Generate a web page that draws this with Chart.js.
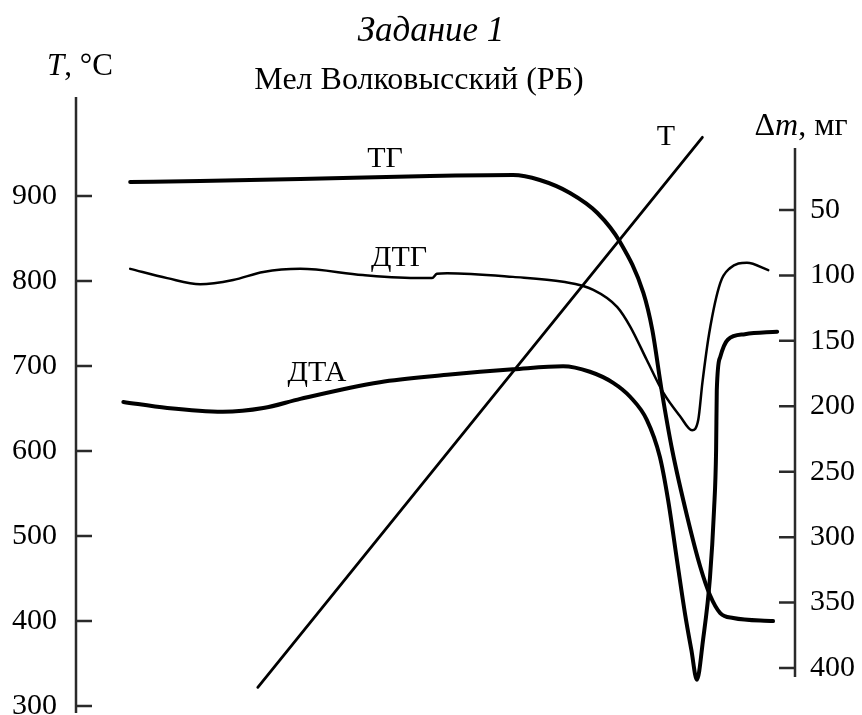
<!DOCTYPE html>
<html>
<head>
<meta charset="utf-8">
<script src="https://cdn.jsdelivr.net/npm/chart.js@4.4.1/dist/chart.umd.min.js"></script>
<style>
  html, body { margin: 0; padding: 0; background: #fff; }
  #wrap { width: 862px; height: 715px; }
</style>
</head>
<body>
<div id="wrap"><canvas id="thermoChart"></canvas></div>
<script>
// hidden x axis: time, min
const timeT = [26.5, 91.3];
const tempT = [322, 969];            // T, °C (left axis)

const timeTG = [7.9, 18.1, 32.7, 51.6, 63.7, 67.6, 72.0, 76.0, 79.3, 82.7, 84.0, 85.4, 86.9, 89.1, 91.0, 92.4, 93.9, 95.8, 101.6];
const massTG = [28.6, 27.8, 26.3, 24.0, 23.3, 27.1, 37.0, 52.3, 74.5, 113.4, 141.7, 189.1, 233.4, 284.6, 322.8, 344.2, 358.0, 361.8, 364.1]; // Δm, мг (right axis)

// DTG and DTA in relative units (no axis on the picture)
const timeDTG = [7.9, 13.3, 18.1, 22.9, 27.3, 32.7, 41.8, 50.2, 51.9, 52.6, 54.1, 63.7, 71.0, 75.4, 78.9, 80.8, 83.2, 85.6, 88.1, 89.8, 90.7, 91.3, 92.3, 93.9, 95.3, 97.8, 100.9];
const valDTG = [72.1, 70.6, 69.6, 70.3, 71.6, 72.1, 71.1, 70.6, 70.6, 71.3, 71.4, 70.8, 70.0, 68.7, 65.9, 62.7, 57.3, 52.0, 48.1, 45.9, 47.6, 53.6, 61.7, 69.8, 72.2, 73.1, 71.9];

const timeDTA = [6.9, 13.3, 21.4, 27.3, 32.7, 44.3, 54.1, 58.9, 63.7, 71.0, 74.9, 78.3, 80.8, 83.2, 85.1, 86.3, 87.6, 88.8, 89.7, 90.5, 91.4, 92.4, 93.0, 93.3, 93.4, 93.9, 95.0, 97.5, 102.2];
const valDTA = [50.5, 49.5, 48.9, 49.5, 51.0, 53.7, 54.9, 55.4, 55.8, 56.3, 55.4, 53.6, 51.3, 47.6, 41.6, 34.6, 24.8, 15.9, 10.2, 5.4, 11.9, 21.9, 33.0, 42.7, 52.4, 57.8, 60.6, 61.5, 61.9];

const tempTicks = [300, 400, 500, 600, 700, 800, 900];
const massTicks = [50, 100, 150, 200, 250, 300, 350, 400];
const massAxisSpan = [2.6, 406.9];

const FONT = '"Liberation Serif", "Times New Roman", serif';

function toPoints(xs, ys) {
    return xs.map((x, i) => ({ x: x, y: ys[i] }));
}

// draws a string made of plain / italic pieces, centred on x
function drawRuns(ctx, runs, x, y, size) {
    let total = 0;
    runs.forEach(r => {
        ctx.font = (r.italic ? 'italic ' : '') + size + 'px ' + FONT;
        r.w = ctx.measureText(r.text).width;
        total += r.w;
    });
    let cx = x - total / 2;
    runs.forEach(r => {
        ctx.font = (r.italic ? 'italic ' : '') + size + 'px ' + FONT;
        ctx.fillText(r.text, cx, y);
        cx += r.w;
    });
}

// keep the plot area fixed: no extra room for the end labels
function fitAxis(width) {
    return s => {
        s.width = width;
        s.paddingTop = 0;
        s.paddingBottom = 0;
    };
}

const frame = {
    id: 'frame',
    afterDraw(chart) {
        const { ctx, chartArea: a, scales } = chart;
        const yT = scales.yT, yM = scales.yM;
        ctx.save();
        ctx.strokeStyle = '#2a2a2a';
        ctx.lineWidth = 2.5;
        ctx.beginPath();
        ctx.moveTo(a.left, a.top);
        ctx.lineTo(a.left, a.bottom);
        tempTicks.forEach(v => {
            const y = yT.getPixelForValue(v);
            ctx.moveTo(a.left, y);
            ctx.lineTo(a.left + 16, y);
        });
        ctx.moveTo(a.right, yM.getPixelForValue(massAxisSpan[0]));
        ctx.lineTo(a.right, yM.getPixelForValue(massAxisSpan[1]));
        massTicks.forEach(v => {
            const y = yM.getPixelForValue(v);
            ctx.moveTo(a.right, y);
            ctx.lineTo(a.right - 16, y);
        });
        ctx.stroke();

        ctx.fillStyle = '#000';
        ctx.textBaseline = 'alphabetic';
        ctx.textAlign = 'left';
        drawRuns(ctx, [{ text: 'Задание 1', italic: true }], 431, 41, 35);
        drawRuns(ctx, [{ text: 'Мел Волковысский (РБ)' }], 419, 89, 32);
        drawRuns(ctx, [{ text: 'T', italic: true }, { text: ', °C' }], 80, 75, 31);
        drawRuns(ctx, [{ text: 'Δ' }, { text: 'm', italic: true }, { text: ', мг' }], 801, 135, 32);
        drawRuns(ctx, [{ text: 'ТГ' }], 385, 167, 30);
        drawRuns(ctx, [{ text: 'ДТГ' }], 399, 266, 30);
        drawRuns(ctx, [{ text: 'ДТА' }], 317, 381, 30);
        drawRuns(ctx, [{ text: 'Т' }], 666, 145, 30);
        ctx.restore();
    }
};

const lineStyle = {
    borderColor: '#000',
    pointRadius: 0,
    fill: false,
    cubicInterpolationMode: 'monotone',
    borderCapStyle: 'round',
    borderJoinStyle: 'round'
};

new Chart(document.getElementById('thermoChart'), {
    type: 'line',
    data: {
        datasets: [
            Object.assign({ label: 'T', data: toPoints(timeT, tempT), yAxisID: 'yT', borderWidth: 2.8 }, lineStyle),
            Object.assign({ label: 'ТГ', data: toPoints(timeTG, massTG), yAxisID: 'yM', borderWidth: 4 }, lineStyle),
            Object.assign({ label: 'ДТГ', data: toPoints(timeDTG, valDTG), yAxisID: 'yRel', borderWidth: 2.5 }, lineStyle),
            Object.assign({ label: 'ДТА', data: toPoints(timeDTA, valDTA), yAxisID: 'yRel', borderWidth: 4 }, lineStyle)
        ]
    },
    options: {
        responsive: true,
        maintainAspectRatio: false,
        animation: false,
        devicePixelRatio: 1,
        layout: { padding: { top: 97, bottom: 2, left: 0, right: 0 } },
        plugins: { legend: { display: false }, tooltip: { enabled: false } },
        scales: {
            x: { type: 'linear', display: false, min: 0, max: 104.8 },
            yT: {
                type: 'linear',
                position: 'left',
                min: 291.76,
                max: 1016.47,
                afterBuildTicks: s => { s.ticks = tempTicks.map(v => ({ value: v })); },
                afterFit: fitAxis(76),
                grid: { display: false, drawTicks: false },
                border: { display: false },
                ticks: { padding: 19, color: '#000', font: { family: FONT, size: 30 } }
            },
            yM: {
                type: 'linear',
                position: 'right',
                reverse: true,
                min: -36.35,
                max: 434.39,
                afterBuildTicks: s => { s.ticks = massTicks.map(v => ({ value: v })); },
                afterFit: fitAxis(67),
                grid: { display: false, drawTicks: false },
                border: { display: false },
                ticks: { padding: 15, color: '#000', font: { family: FONT, size: 30 } }
            },
            yRel: { type: 'linear', display: false, min: 0, max: 100 }
        }
    },
    plugins: [frame]
});
</script>
</body>
</html>
